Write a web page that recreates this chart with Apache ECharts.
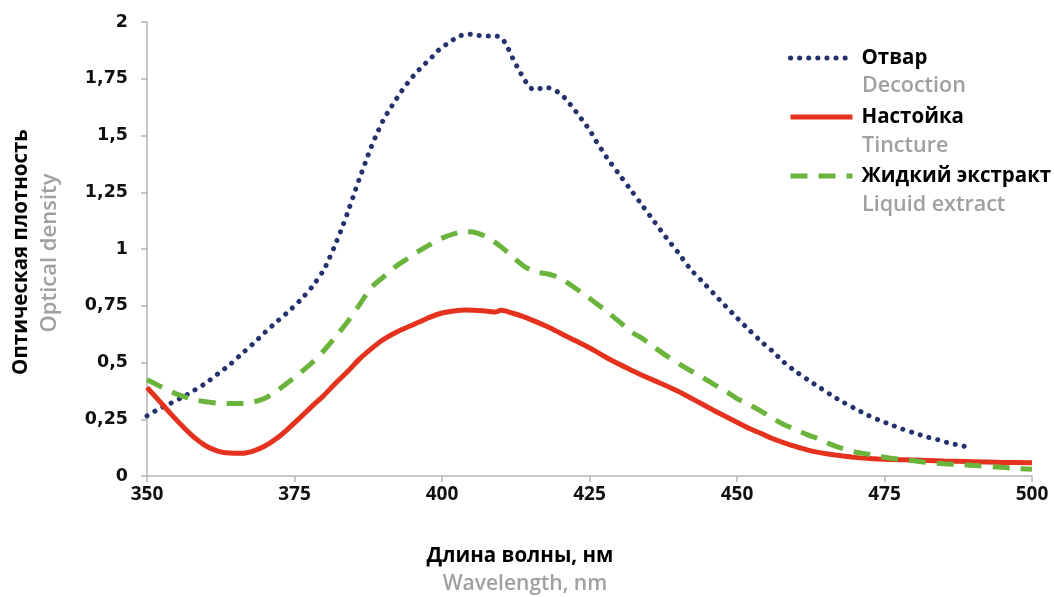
<!DOCTYPE html>
<html><head><meta charset="utf-8">
<script src="https://cdn.jsdelivr.net/npm/echarts@6/dist/echarts.min.js"></script>
<style>html,body{margin:0;padding:0;background:#fff}#c{width:1054px;height:597px}</style>
</head><body><div id="c"></div>
<script>
const decoctionX = [350,352,354,356,358,360,362,364,366,368,370,372,374,376,378,380,381,382,383,384,385,386,387,388,389,390,391,392,393,394,395,396,397,398,399,400,401,402,403,404,405,406,407,408,409,410,411,412,413,414,415,416,417,418,419,420,421,422,423,424,425,426,427,428,430,432,434,436,438,440,442,444,446,448,450,452,454,456,458,460,462,464,466,468,470,472,474,476,478,480,482,484,486,488,490];
const decoctionY = [0.265,0.295,0.32,0.347,0.377,0.41,0.45,0.49,0.537,0.583,0.633,0.68,0.725,0.775,0.834,0.91,0.965,1.025,1.09,1.16,1.235,1.31,1.38,1.45,1.51,1.565,1.61,1.65,1.69,1.725,1.758,1.787,1.813,1.837,1.865,1.89,1.905,1.924,1.938,1.946,1.946,1.942,1.938,1.938,1.938,1.932,1.894,1.84,1.79,1.745,1.71,1.70,1.71,1.71,1.70,1.685,1.66,1.628,1.595,1.56,1.525,1.48,1.44,1.40,1.33,1.26,1.19,1.12,1.05,0.985,0.915,0.86,0.805,0.75,0.697,0.645,0.595,0.55,0.50,0.46,0.424,0.39,0.356,0.325,0.297,0.27,0.247,0.227,0.207,0.19,0.173,0.16,0.145,0.134,0.123];

const tinctureX = [350,352,354,356,358,360,362,364,366,368,370,372,374,376,378,380,382,384,386,388,390,392,394,396,398,400,402,404,406,408,409,410,412,414,416,418,420,422,424,426,428,430,432,434,436,438,440,442,444,446,448,450,452,454,456,458,460,462,464,466,468,470,472,474,476,480,485,490,495,500];
const tinctureY = [0.39,0.333,0.275,0.22,0.17,0.132,0.11,0.101,0.10,0.11,0.132,0.166,0.21,0.258,0.308,0.356,0.41,0.46,0.515,0.56,0.6,0.63,0.654,0.677,0.70,0.718,0.727,0.731,0.729,0.725,0.722,0.73,0.717,0.70,0.679,0.656,0.63,0.604,0.578,0.55,0.52,0.493,0.467,0.443,0.42,0.398,0.373,0.346,0.318,0.29,0.263,0.237,0.21,0.188,0.165,0.146,0.129,0.114,0.103,0.095,0.088,0.082,0.078,0.075,0.073,0.07,0.066,0.063,0.06,0.058];

const extractX = [350,352,354,356,358,360,362,364,366,368,370,372,374,376,378,380,382,384,386,388,390,392,394,396,398,400,402,404,406,408,410,412,414,416,418,420,422,424,426,428,430,432,434,436,438,440,442,444,446,448,450,452,454,456,458,460,462,464,466,468,470,472,474,476,478,480,482,485,488,491,494,497,500];
const extractY = [0.424,0.398,0.372,0.352,0.336,0.327,0.321,0.319,0.319,0.326,0.343,0.375,0.414,0.455,0.5,0.553,0.615,0.68,0.754,0.83,0.875,0.92,0.955,0.99,1.02,1.048,1.067,1.077,1.07,1.046,1.01,0.965,0.922,0.898,0.89,0.872,0.838,0.802,0.763,0.723,0.681,0.636,0.605,0.567,0.53,0.497,0.466,0.437,0.405,0.375,0.341,0.315,0.287,0.255,0.226,0.204,0.181,0.162,0.138,0.12,0.106,0.097,0.088,0.078,0.073,0.067,0.06,0.054,0.05,0.045,0.04,0.034,0.03];

const seriesNamesRu = ['Отвар','Настойка','Жидкий экстракт'];
const seriesNamesEn = ['Decoction','Tincture','Liquid extract'];
const xTicks = [350,375,400,425,450,475,500];
const yTicks = [0,0.25,0.5,0.75,1,1.25,1.5,1.75,2];

const pair = (xs, ys) => xs.map((x, i) => [x, ys[i]]);
const GRAY = '#a0a0a0';
const chart = echarts.init(document.getElementById('c'), null, {renderer: 'canvas'});
chart.setOption({
  animation: false,
  grid: {left: 147, right: 22, top: 22, bottom: 121, containLabel: false},
  xAxis: {
    type: 'value', min: xTicks[0], max: xTicks[xTicks.length-1], interval: 25,
    axisLine: {lineStyle: {color: '#b5b5b5', width: 1.5}},
    axisTick: {show: true, length: 6, lineStyle: {color: '#b5b5b5', width: 1.5}},
    splitLine: {show: false},
    axisLabel: {margin: 9, color: '#111', fontFamily: 'Open Sans', fontWeight: 'bold', fontSize: 19}
  },
  yAxis: {
    type: 'value', min: yTicks[0], max: yTicks[yTicks.length-1], interval: 0.25,
    axisLine: {show: true, lineStyle: {color: '#b5b5b5', width: 1.5}},
    axisTick: {show: true, length: 6, lineStyle: {color: '#b5b5b5', width: 1.5}},
    splitLine: {show: false},
    axisLabel: {margin: 19, color: '#111', fontFamily: 'DejaVu Sans', fontWeight: 'bold', fontSize: 17.5,
      formatter: v => String(v).replace('.', ',')}
  },
  legend: {
    orient: 'vertical', left: 788, top: 47, padding: 0, itemWidth: 62, itemHeight: 16, itemGap: 37,
    itemStyle: {opacity: 0},
    lineStyle: {width: 5},
    textStyle: {fontFamily: 'Open Sans', fontWeight: 'bold', fontSize: 20.5, color: '#000', lineHeight: 22, padding: [0,0,0,4]},
    data: seriesNamesRu
  },
  graphic: [
    {type: 'text', x: 862, y: 86, style: {text: seriesNamesEn[0], font: '600 21.5px "Open Sans"', fill: GRAY, textVerticalAlign: 'middle'}},
    {type: 'text', x: 862, y: 146, style: {text: seriesNamesEn[1], font: '600 21.5px "Open Sans"', fill: GRAY, textVerticalAlign: 'middle'}},
    {type: 'text', x: 862, y: 205, style: {text: seriesNamesEn[2], font: '600 21.5px "Open Sans"', fill: GRAY, textVerticalAlign: 'middle'}},
    {type: 'text', x: 520, y: 556, style: {text: 'Длина волны, нм', font: 'bold 20.5px "Open Sans"', fill: '#000', textAlign: 'center', textVerticalAlign: 'middle'}},
    {type: 'text', x: 525, y: 584, style: {text: 'Wavelength, nm', font: '600 21px "Open Sans"', fill: GRAY, textAlign: 'center', textVerticalAlign: 'middle'}},
    {type: 'text', x: 21, y: 252, rotation: Math.PI/2, style: {text: 'Оптическая плотность', font: 'bold 20.5px "Open Sans"', fill: '#000', textAlign: 'center', textVerticalAlign: 'middle'}},
    {type: 'text', x: 50, y: 253, rotation: Math.PI/2, style: {text: 'Optical density', font: '600 22px "Open Sans"', fill: GRAY, textAlign: 'center', textVerticalAlign: 'middle'}}
  ],
  series: [
    {name: seriesNamesRu[0], type: 'line', data: pair(decoctionX, decoctionY), showSymbol: false, symbol: 'none', smooth: 0.3,
      color: '#24316f', lineStyle: {color: '#24316f', width: 5, type: [0.1, 9], cap: 'round'}},
    {name: seriesNamesRu[1], type: 'line', data: pair(tinctureX, tinctureY), showSymbol: false, symbol: 'none', smooth: 0.3,
      color: '#e5321f', lineStyle: {color: '#e5321f', width: 5, type: 'solid'}},
    {name: seriesNamesRu[2], type: 'line', data: pair(extractX, extractY), showSymbol: false, symbol: 'none', smooth: 0.3,
      color: '#6ab43c', lineStyle: {color: '#6ab43c', width: 5, type: [17, 11]}}
  ]
});
</script></body></html>
